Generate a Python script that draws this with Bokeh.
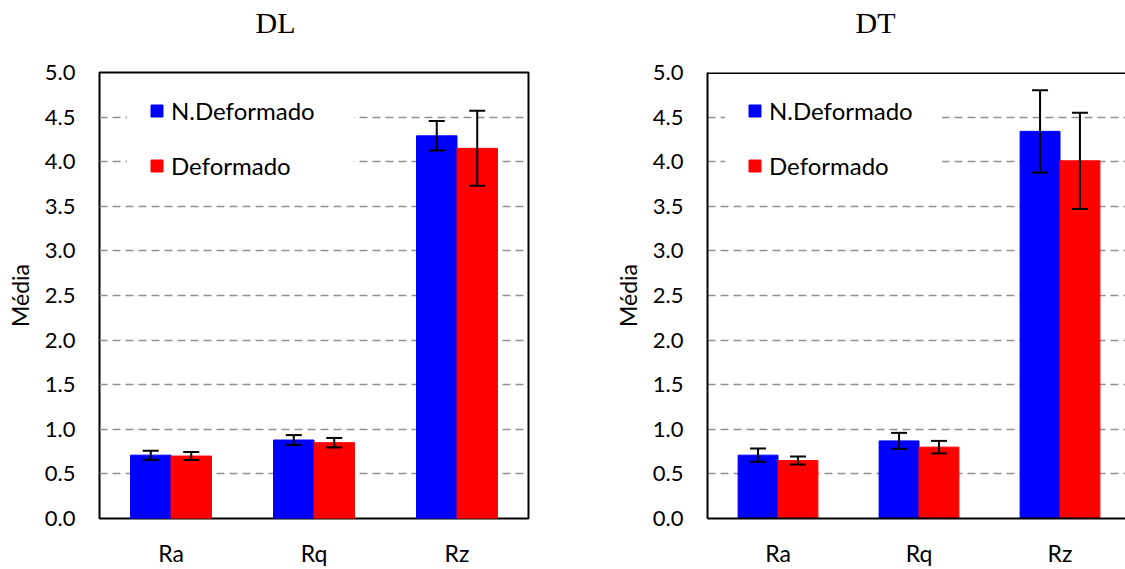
from bokeh.plotting import figure
from bokeh.models import (Range1d, FixedTicker, NumeralTickFormatter, Whisker, TeeHead,
                          ColumnDataSource, Legend, LegendItem, LinearAxis, Span)
from bokeh.layouts import row
from bokeh.embed import file_html
from bokeh.resources import INLINE

categories = ["Ra", "Rq", "Rz"]
series_names = ["N.Deformado", "Deformado"]

dl_nd = [0.71, 0.88, 4.29]
dl_nd_err = [0.05, 0.055, 0.165]
dl_d = [0.70, 0.85, 4.15]
dl_d_err = [0.045, 0.053, 0.42]

dt_nd = [0.71, 0.87, 4.34]
dt_nd_err = [0.075, 0.09, 0.46]
dt_d = [0.65, 0.80, 4.01]
dt_d_err = [0.045, 0.07, 0.54]

y_ticks = [0.0, 0.5, 1.0, 1.5, 2.0, 2.5, 3.0, 3.5, 4.0, 4.5, 5.0]

SANS = "Lato"
SERIF = "Liberation Serif"
BAR_W = 0.283
COLORS = ["#0000FF", "#FF0000"]


def make_panel(title, nd, nd_err, d, d_err, width, frame_w, cat_px, right_border,
               title_px, legend_x, label_w, full_outline):
    x_end = frame_w / cat_px
    p = figure(width=width, height=569, x_range=Range1d(0, x_end), y_range=Range1d(0, 5),
               output_backend="svg", toolbar_location=None,
               min_border_left=99, min_border_right=right_border,
               min_border_top=72, min_border_bottom=50)
    p.background_fill_color = "white"
    p.border_fill_color = "white"

    # panel title: a single tick label of an otherwise empty axis above the frame
    t_pos = title_px / cat_px
    tax = LinearAxis(ticker=FixedTicker(ticks=[t_pos]), major_label_overrides={t_pos: title},
                     axis_line_color=None, major_tick_out=0, major_tick_in=0,
                     minor_tick_out=0, minor_tick_in=0, major_tick_line_color=None,
                     minor_tick_line_color=None, major_label_standoff=34,
                     major_label_text_font=SERIF, major_label_text_font_size="30px",
                     major_label_text_color="black")
    p.add_layout(tax, "above")

    centers = [i + 0.5 for i in range(len(categories))]
    renderers = []
    for k, (vals, errs) in enumerate([(nd, nd_err), (d, d_err)]):
        xs = [c + (k - 0.5) * BAR_W for c in centers]
        src = ColumnDataSource(dict(x=xs, top=vals,
                                    upper=[v + e for v, e in zip(vals, errs)],
                                    lower=[v - e for v, e in zip(vals, errs)]))
        r = p.vbar(x="x", top="top", width=BAR_W, source=src,
                   fill_color=COLORS[k], line_color=COLORS[k], line_width=1)
        renderers.append(r)
        w = Whisker(base="x", upper="upper", lower="lower", source=src,
                    line_color="black", line_width=2, level="overlay",
                    upper_head=TeeHead(size=16, line_color="black", line_width=2),
                    lower_head=TeeHead(size=16, line_color="black", line_width=2))
        p.add_layout(w)

    p.xgrid.visible = False
    p.ygrid.grid_line_color = "#909090"
    p.ygrid.grid_line_dash = "8 5"
    p.ygrid.grid_line_width = 1.5

    p.yaxis.ticker = FixedTicker(ticks=y_ticks)
    p.yaxis.formatter = NumeralTickFormatter(format="0.0")
    p.yaxis.major_tick_out = 0
    p.yaxis.major_tick_in = 0
    p.yaxis.minor_tick_line_color = None
    p.yaxis.major_label_standoff = 24
    p.yaxis.major_label_text_font = SANS
    p.yaxis.major_label_text_font_size = "22px"
    p.yaxis.major_label_text_color = "black"
    p.yaxis.axis_label = "Média"
    p.yaxis.axis_label_text_font = SANS
    p.yaxis.axis_label_text_font_size = "23px"
    p.yaxis.axis_label_text_font_style = "normal"
    p.yaxis.axis_label_text_color = "black"
    p.yaxis.axis_label_standoff = 8

    xax = p.below[0]
    xax.ticker = FixedTicker(ticks=centers)
    xax.major_label_overrides = {c: lab for c, lab in zip(centers, categories)}
    xax.major_tick_out = 0
    xax.major_tick_in = 0
    xax.minor_tick_line_color = None
    xax.major_label_standoff = 20
    xax.major_label_text_font = SANS
    xax.major_label_text_font_size = "23px"
    xax.major_label_text_color = "black"

    if full_outline:
        p.outline_line_color = "black"
        p.outline_line_width = 2
        p.outline_line_alpha = 1
        xax.axis_line_color = None
        p.yaxis.axis_line_color = None
    else:
        p.outline_line_color = None
        xax.axis_line_color = "black"
        xax.axis_line_width = 2
        p.yaxis.axis_line_color = "black"
        p.yaxis.axis_line_width = 2
        p.add_layout(Span(location=5, dimension="width", line_color="black", line_width=3))

    legend = Legend(items=[LegendItem(label=n, renderers=[r]) for n, r in zip(series_names, renderers)],
                    location=(legend_x, 316), margin=0, padding=20, spacing=26,
                    background_fill_color="white", background_fill_alpha=1,
                    border_line_color="white", border_line_width=2,
                    glyph_width=15, glyph_height=15,
                    label_standoff=7, label_width=label_w, label_height=20,
                    label_text_font=SANS, label_text_font_size="24px", label_text_color="black")
    p.add_layout(legend)
    return p


p1 = make_panel("DL", dl_nd, dl_nd_err, dl_d, dl_d_err, width=608, frame_w=429, cat_px=143,
                right_border=80, title_px=176, legend_x=28, label_w=161, full_outline=True)
p2 = make_panel("DT", dt_nd, dt_nd_err, dt_d, dt_d_err, width=517, frame_w=418, cat_px=141,
                right_border=0, title_px=168, legend_x=18, label_w=151, full_outline=False)

layout = row(p1, p2)
open("out.html", "w").write(file_html(layout, INLINE))
